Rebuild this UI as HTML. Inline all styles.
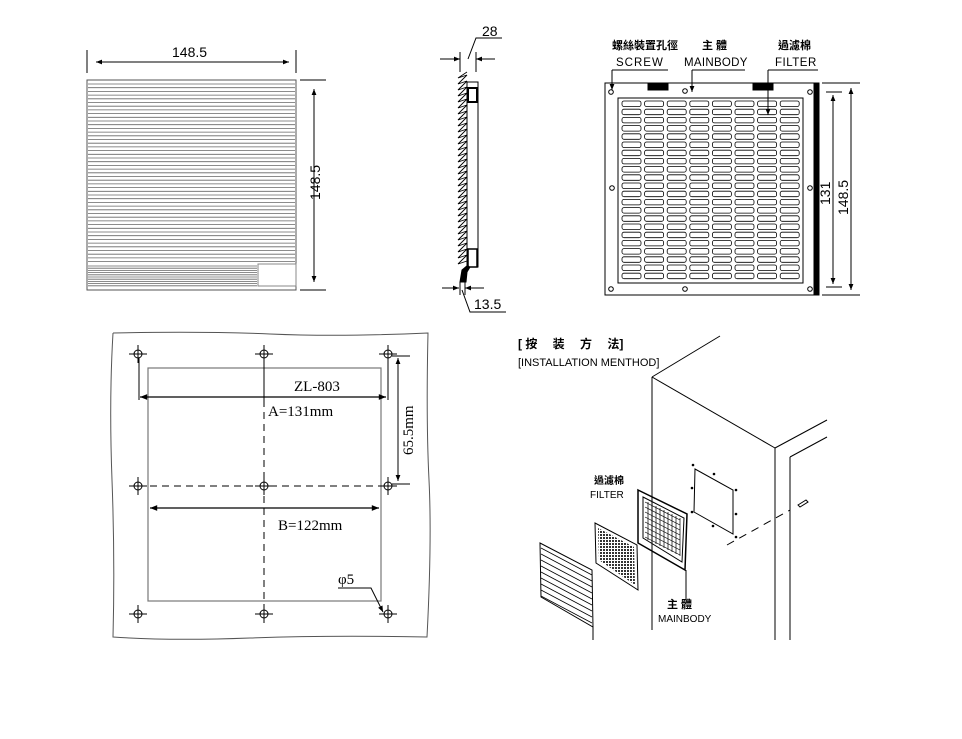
<!DOCTYPE html>
<html><head><meta charset="utf-8"><style>
html,body{margin:0;padding:0;background:#fff;}
svg{display:block;font-family:"Liberation Sans","Noto Sans CJK TC",sans-serif;}
</style></head><body>
<svg id="s" width="962" height="739" viewBox="0 0 962 739" xmlns="http://www.w3.org/2000/svg">
<defs>
<marker id="a" viewBox="0 0 10 10" refX="10" refY="5" markerWidth="8" markerHeight="6" orient="auto-start-reverse"><path d="M0,1 L10,5 L0,9 z" fill="#000"/></marker>
<pattern id="mesh" width="3" height="3" patternUnits="userSpaceOnUse"><rect width="3" height="3" fill="#fff"/><rect width="2" height="2" fill="#333"/></pattern>
</defs>
<g stroke="#000" fill="none" stroke-width="1">
<rect x="87" y="80" width="209" height="210" stroke="#555"/>
<g id="p1lines" stroke="#666" stroke-width="0.8"></g>
<rect x="258" y="264" width="38" height="22" fill="#fff" stroke="#888"/>
<line x1="87" y1="50" x2="87" y2="73"/><line x1="296" y1="50" x2="296" y2="73"/>
<line x1="96" y1="62" x2="289" y2="62" marker-start="url(#a)" marker-end="url(#a)"/>
<line x1="300" y1="80" x2="326" y2="80"/><line x1="300" y1="290" x2="326" y2="290"/>
<line x1="314" y1="89" x2="314" y2="282" marker-start="url(#a)" marker-end="url(#a)"/>
<path id="saw" stroke-width="0.9"></path>
<rect x="467" y="82" width="11" height="185"/>
<rect x="468" y="88" width="9" height="14" stroke-width="2"/>
<rect x="468" y="249" width="9" height="18" stroke-width="1.5"/>
<path d="M468,265 L462,270 L460,282 L466,282 L467,272 L470,267" fill="#000"/>
<line x1="440" y1="59" x2="460" y2="59" marker-end="url(#a)"/><line x1="476" y1="59" x2="495" y2="59" marker-start="url(#a)"/>
<line x1="460" y1="52" x2="460" y2="72"/><line x1="476" y1="52" x2="476" y2="72"/>
<polyline points="468,59 476,38 502,38"/>
<line x1="442" y1="288" x2="459" y2="288" marker-end="url(#a)"/><line x1="465" y1="288" x2="484" y2="288" marker-start="url(#a)"/>
<line x1="460" y1="282" x2="460" y2="295"/><line x1="465" y1="282" x2="465" y2="295"/>
<polyline points="462,290 470,312 506,312"/>
<rect x="605" y="83" width="211" height="212"/>
<rect x="814" y="83" width="5" height="212" fill="#000"/>
<rect x="618" y="98" width="185" height="185"/>
<g id="slots" stroke-width="0.8"></g>
<rect x="648" y="84" width="20" height="6" fill="#000"/><rect x="753" y="84" width="20" height="6" fill="#000"/>
<g id="holes3"></g>
<polyline points="612,70 612,70 612,90" marker-end="url(#a)"/><line x1="612" y1="70" x2="668" y2="70"/>
<polyline points="692,70 745,70"/><line x1="692" y1="70" x2="692" y2="92" marker-end="url(#a)"/>
<line x1="768" y1="70" x2="818" y2="70"/><line x1="768" y1="70" x2="768" y2="115" marker-end="url(#a)"/>
<line x1="822" y1="83" x2="860" y2="83"/><line x1="822" y1="295" x2="860" y2="295"/>
<line x1="826" y1="92" x2="842" y2="92"/><line x1="826" y1="287" x2="842" y2="287"/>
<line x1="833" y1="95" x2="833" y2="284" marker-start="url(#a)" marker-end="url(#a)"/>
<line x1="851" y1="88" x2="851" y2="290" marker-start="url(#a)" marker-end="url(#a)"/>
<path d="M113,333 Q200,331 270,334 T428,333 Q426,420 429,480 T427,637 Q330,635 250,638 T113,637 Q115,560 112,480 T113,333" stroke="#555"/>
<rect x="148" y="368" width="233" height="233" stroke="#777" stroke-width="1.2"/>
<g id="holes4"></g>
<line x1="264" y1="354" x2="264" y2="400"/>
<line x1="264" y1="400" x2="264" y2="614" stroke-dasharray="7,5"/>
<line x1="138" y1="486" x2="400" y2="486" stroke-dasharray="7,5"/>
<line x1="139" y1="358" x2="139" y2="400"/><line x1="388" y1="358" x2="388" y2="400"/>
<line x1="140" y1="397" x2="386" y2="397" stroke-width="1.2" marker-start="url(#a)" marker-end="url(#a)"/>
<line x1="150" y1="508" x2="379" y2="508" stroke-width="1.2" marker-start="url(#a)" marker-end="url(#a)"/>
<line x1="392" y1="356" x2="410" y2="356"/><line x1="392" y1="484" x2="410" y2="484"/>
<line x1="398" y1="358" x2="398" y2="481" marker-start="url(#a)" marker-end="url(#a)"/>
<polyline points="338,588 371,588 383,612" marker-end="url(#a)"/>
<line x1="652" y1="377" x2="720" y2="336"/>
<line x1="652" y1="377" x2="652" y2="630"/>
<line x1="652" y1="377" x2="775" y2="448"/>
<line x1="775" y1="448" x2="827" y2="420"/>
<line x1="775" y1="448" x2="775" y2="640"/>
<line x1="790" y1="457" x2="827" y2="437"/>
<line x1="790" y1="457" x2="790" y2="640"/>
<polygon points="695,469 733,490 733,534 694,512"/>
<line x1="727" y1="545" x2="790" y2="510" stroke-dasharray="8,6"/>
<path d="M798,505 L806,500 L808,502 L800,507 z"/>
<polygon points="638,490 687,514 685,570 638,543" stroke-width="1.5"/>
<polygon points="643,497 684,518 682,562 643,538"/>
<g id="mbgrid" stroke-width="0.7"></g>
<polygon points="595,523 637,545 638,590 596,563"/>
<polygon points="598,528 634,547 635,585 599,560" fill="url(#mesh)" stroke="none"/>
<polygon points="540,543 592,570 593,627 541,597"/>
<g id="grl" stroke-width="0.8"></g>
<line x1="686" y1="570" x2="686" y2="600"/>
<line x1="593" y1="627" x2="593" y2="640"/>
</g>
<g fill="#000" font-size="14">
<text x="172" y="57">148.5</text>
<text transform="translate(320,200) rotate(-90)">148.5</text>
<text x="482" y="36">28</text>
<text x="474" y="309">13.5</text>
<text x="612" y="49" font-size="11" font-weight="bold">螺絲裝置孔徑</text>
<text x="702" y="49" font-size="11" font-weight="bold">主 體</text>
<text x="778" y="49" font-size="11" font-weight="bold">過濾棉</text>
<text x="616" y="66" font-size="11.5" letter-spacing="1">SCREW</text>
<text x="684" y="66" font-size="11.5" letter-spacing="0.3">MAINBODY</text>
<text x="775" y="66" font-size="11.5" letter-spacing="0.5">FILTER</text>
<text transform="translate(830,205) rotate(-90)">131</text>
<text transform="translate(848,215) rotate(-90)">148.5</text>
<g font-family="'Liberation Serif',serif" font-size="15">
<text x="294" y="391">ZL-803</text>
<text x="268" y="416">A=131mm</text>
<text x="278" y="530">B=122mm</text>
<text x="338" y="584">φ5</text>
<text transform="translate(413,455) rotate(-90)">65.5mm</text>
</g>
<text x="518" y="348" font-size="12" font-weight="bold">[ 按　 装　 方　 法]</text>
<text x="518" y="366" font-size="11">[INSTALLATION MENTHOD]</text>
<text x="594" y="484" font-size="10" font-weight="bold">過濾棉</text>
<text x="590" y="498" font-size="10">FILTER</text>
<text x="667" y="608" font-size="11" font-weight="bold">主 體</text>
<text x="658" y="622" font-size="10">MAINBODY</text>
</g>
</svg>
<script>
var NS="http://www.w3.org/2000/svg";
function el(p,t,a){var e=document.createElementNS(NS,t);for(var k in a)e.setAttribute(k,a[k]);document.getElementById(p).appendChild(e);return e;}
for(var y=84;y<262;y+=3.7){el("p1lines","line",{x1:88,y1:y.toFixed(1),x2:295,y2:y.toFixed(1)});}
for(var y=266;y<286;y+=2.2){el("p1lines","line",{x1:88,y1:y.toFixed(1),x2:257,y2:y.toFixed(1)});}
var d="M467,72";for(var y=72;y<262;y+=6){d+=" L458,"+(y+6)+" L467,"+(y+3);}
document.getElementById("saw").setAttribute("d",d);
for(var r=0;r<22;r++)for(var c=0;c<8;c++){el("slots","rect",{x:622+c*22.6,y:101+r*8.2,width:19,height:5.5,rx:2});}
[[611,92],[612,188],[611,289],[685,91],[685,289],[810,92],[810,188],[810,289]].forEach(function(p){el("holes3","circle",{cx:p[0],cy:p[1],r:2.3});});
[138,264,388].forEach(function(x){[354,486,614].forEach(function(y){el("holes4","circle",{cx:x,cy:y,r:4});el("holes4","line",{x1:x-9,y1:y,x2:x+9,y2:y});el("holes4","line",{x1:x,y1:y-9,x2:x,y2:y+9});});});
for(var i=0;i<9;i++){var x=648+i*4;el("mbgrid","line",{x1:x,y1:502+i*2,x2:x,y2:540+i*2});}
for(var j=0;j<8;j++){var y=502+j*5;el("mbgrid","line",{x1:645,y1:y,x2:680,y2:y+18});}
for(var k=0;k<9;k++){var y=548+k*6;el("grl","line",{x1:541,y1:y,x2:592,y2:y+27});}
[[693,465],[714,474],[692,488],[736,490],[692,512],[736,514],[713,526],[736,537]].forEach(function(p){el("s","circle",{cx:p[0],cy:p[1],r:1.3,fill:"#000"});});
</script>
</body></html>
